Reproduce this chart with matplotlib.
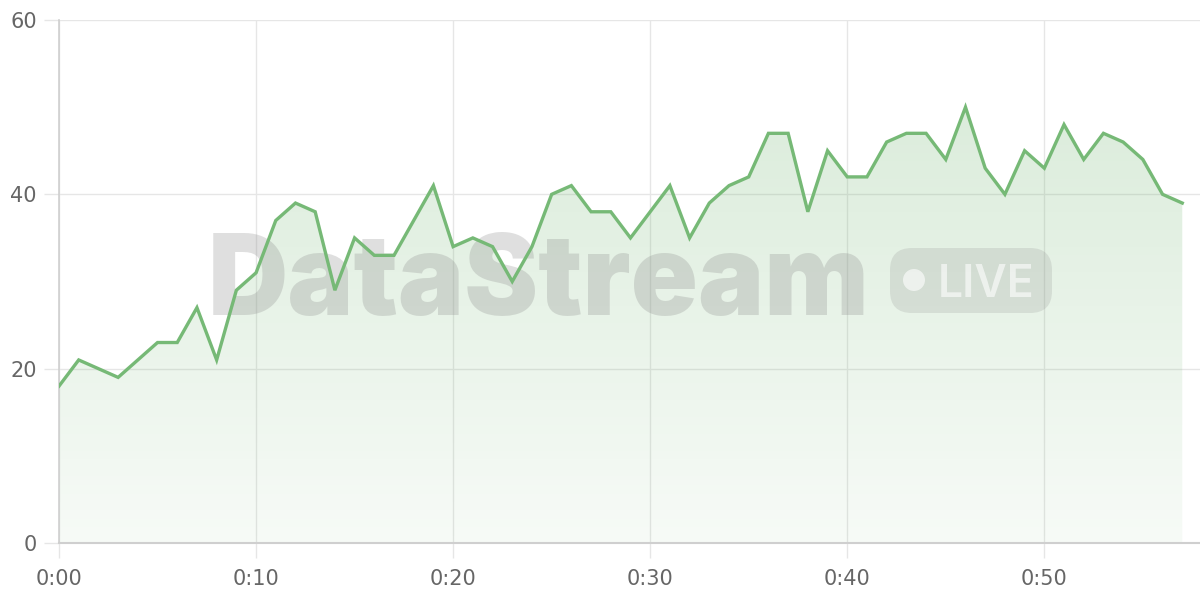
import matplotlib.pyplot as plt
import numpy as np
from matplotlib.patches import FancyBboxPatch, Circle
from matplotlib.transforms import IdentityTransform

# minutes 0..57 and the stream value per minute
minutes = list(range(58))
values = [18, 21, 20, 19, 21, 23, 23, 27, 21, 29,
          31, 37, 39, 38, 29, 35, 33, 33, 37, 41,
          34, 35, 34, 30, 34, 40, 41, 38, 38, 35,
          38, 41, 35, 39, 41, 42, 47, 47, 38, 45,
          42, 42, 46, 47, 47, 44, 50, 43, 40, 45,
          43, 48, 44, 47, 46, 44, 40, 39]
xticks = [0, 10, 20, 30, 40, 50]
xticklabels = ['0:00', '0:10', '0:20', '0:30', '0:40', '0:50']
yticks = [0, 20, 40, 60]

green = '#76b976'
grid_c = '#e6e6e6'

fig = plt.figure(figsize=(12, 6), dpi=100)
ax = fig.add_axes([59/1200, 57/600, 1141/1200, 523/600])
ax.set_xlim(0, 57.9)
ax.set_ylim(0, 60)

# gradient fill under the line
grad = np.zeros((256, 1, 4))
grad[..., 0], grad[..., 1], grad[..., 2] = 0.46, 0.72, 0.46
grad[:, 0, 3] = np.linspace(0.30, 0.06, 256)
im = ax.imshow(grad, extent=[0, minutes[-1], 0, 60], aspect='auto',
               origin='upper', zorder=1)
poly = ax.fill_between(minutes, values, 0, color='none', zorder=1)
im.set_clip_path(poly.get_paths()[0], transform=ax.transData)

ax.plot(minutes, values, color=green, lw=2.4, zorder=4, solid_joinstyle='miter')

# watermark
t = ax.text(208, 600 - 315, 'DataStream', transform=IdentityTransform(),
            fontsize=80, fontweight='black', family='Inter', color='#8a8a8a',
            alpha=0.27, ha='left', va='baseline', zorder=3)
fig.canvas.draw()
w = t.get_window_extent().width
t.set_fontsize(80 * 662 / w)

pill = FancyBboxPatch((890, 600 - 313), 162, 65, boxstyle='round,pad=0,rounding_size=22',
                      transform=IdentityTransform(), facecolor='#8a8a8a', alpha=0.2,
                      edgecolor='none', zorder=3)
ax.add_artist(pill)
ax.add_artist(Circle((914, 600 - 280), 11, transform=IdentityTransform(),
                     facecolor='white', alpha=0.6, edgecolor='none', zorder=3))
ax.text(938, 600 - 297, 'LIVE', transform=IdentityTransform(), fontsize=32,
        fontweight='semibold', family='Inter', color='white', alpha=0.6,
        ha='left', va='baseline', zorder=3)

# axes styling
ax.set_xticks(xticks)
ax.set_xticklabels(xticklabels)
ax.set_yticks(yticks)
ax.grid(True, color=grid_c, lw=1, zorder=0)
ax.set_axisbelow(True)
for s in ['top', 'right']:
    ax.spines[s].set_visible(False)
ax.spines['left'].set_color('#cfcfcf')
ax.spines['bottom'].set_color('#cfcfcf')
ax.spines['left'].set_linewidth(1.2)
ax.spines['bottom'].set_linewidth(1.5)
ax.tick_params(axis='both', colors=grid_c, labelcolor='#666666', labelsize=15,
               length=11, width=1)
ax.tick_params(axis='y', pad=5)
ax.tick_params(axis='x', pad=8)

fig.savefig('out.png', dpi=100)
